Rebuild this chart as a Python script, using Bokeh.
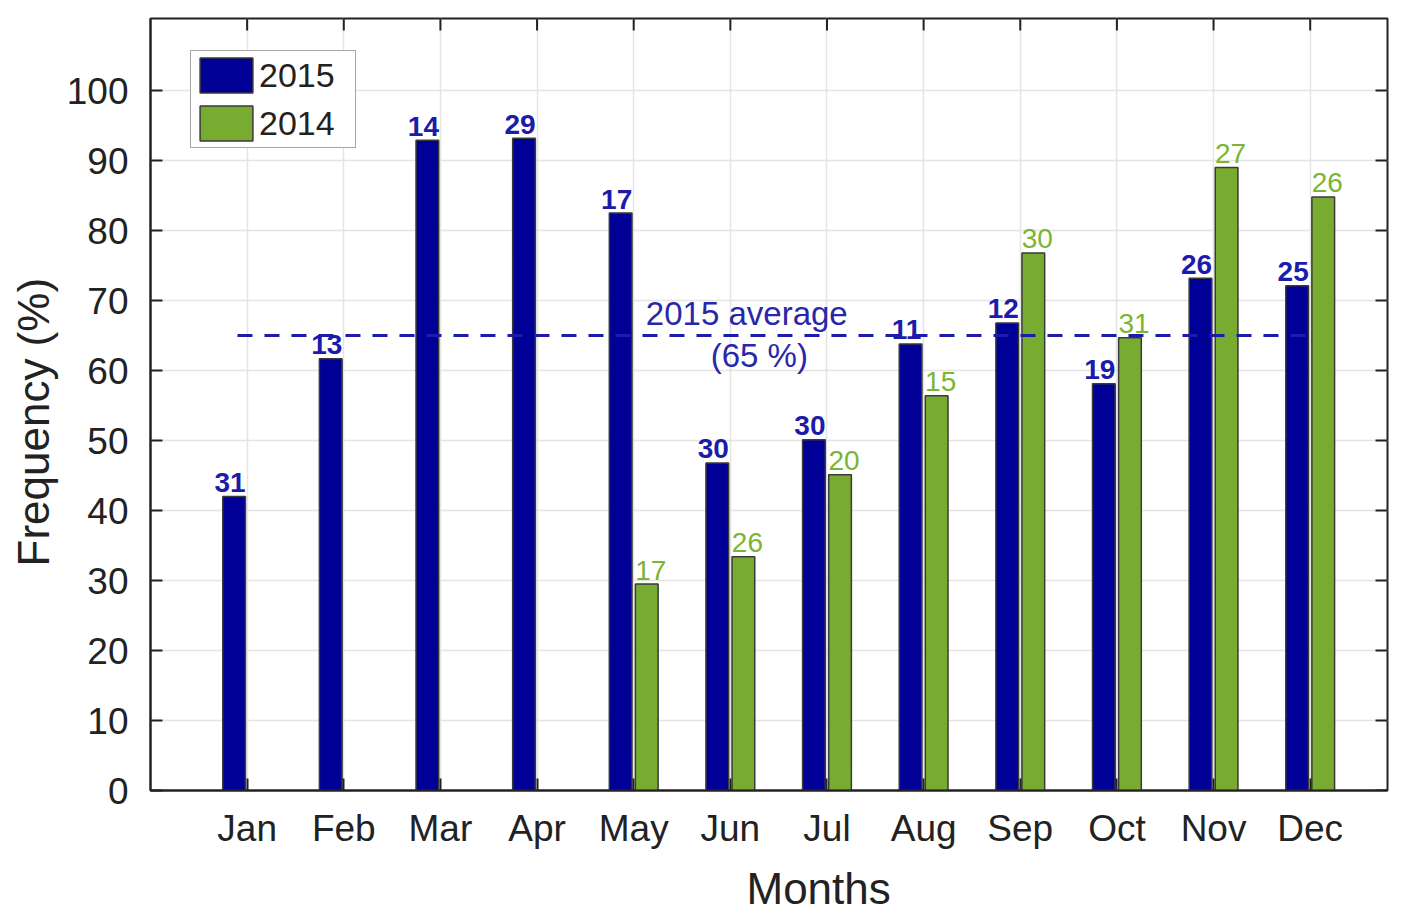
from bokeh.plotting import figure
from bokeh.models import (ColumnDataSource, Range1d, FixedTicker, Legend, LegendItem, Label,
                          Title)
from bokeh.core.properties import value
from bokeh.embed import file_html
from bokeh.resources import INLINE

# ---------------- data ----------------
months = ["Jan", "Feb", "Mar", "Apr", "May", "Jun", "Jul", "Aug", "Sep", "Oct", "Nov", "Dec"]
month_idx = [1, 2, 3, 4, 5, 6, 7, 8, 9, 10, 11, 12]
freq_2015 = [42.0, 61.7, 92.9, 93.2, 82.5, 46.8, 50.1, 63.8, 66.8, 58.1, 73.2, 72.1]
count_2015 = [31, 13, 14, 29, 17, 30, 30, 11, 12, 19, 26, 25]
month_idx_2014 = [5, 6, 7, 8, 9, 10, 11, 12]
freq_2014 = [29.5, 33.4, 45.1, 56.4, 76.8, 64.7, 89.0, 84.8]
count_2014 = [17, 26, 20, 15, 30, 31, 27, 26]
avg_2015 = 65
y_ticks = [0, 10, 20, 30, 40, 50, 60, 70, 80, 90, 100]

# ---------------- style ----------------
FONT = "Liberation Sans"
BLUE = "#000096"
BLUE_TXT = "#1c1caa"
GREEN = "#77ac30"
GREEN_TXT = "#7ab534"
DARK = "#222222"
OFF = 0.135
BW = 0.235
X0, X1 = 0.0, 12.8
Y0, Y1 = 0.0, 110.3
FW, FH = 1237, 772
TICK = 12

src15 = ColumnDataSource(dict(x=[m - OFF for m in month_idx], y=freq_2015,
                              lab=[str(c) for c in count_2015]))
src14 = ColumnDataSource(dict(x=[m + OFF for m in month_idx_2014], y=freq_2014,
                              lab=[str(c) for c in count_2014]))

p = figure(frame_width=FW, frame_height=FH, output_backend="svg", toolbar_location=None,
           x_range=Range1d(X0, X1), y_range=Range1d(Y0, Y1),
           min_border_left=149, min_border_right=2, min_border_top=18, min_border_bottom=112)
p.background_fill_color = "white"
p.outline_line_color = DARK
p.outline_line_width = 2

# grid
p.xgrid.ticker = FixedTicker(ticks=month_idx)
p.ygrid.ticker = FixedTicker(ticks=y_ticks)
for g in (p.xgrid, p.ygrid):
    g.grid_line_color = "#e4e4e4"
    g.grid_line_width = 1.5

# ticks on the top and right edges of the box (inward)
dy = TICK * (Y1 - Y0) / FH
dx = TICK * (X1 - X0) / FW
p.segment(x0=month_idx, y0=[Y1] * len(month_idx), x1=month_idx, y1=[Y1 - dy] * len(month_idx),
          line_color=DARK, line_width=2)
p.segment(x0=[X1] * len(y_ticks), y0=y_ticks, x1=[X1 - dx] * len(y_ticks), y1=y_ticks,
          line_color=DARK, line_width=2)

# bars
r15 = p.vbar(x="x", top="y", width=BW, source=src15, fill_color=BLUE,
             line_color="#3a3a3a", line_width=1.5)
r14 = p.vbar(x="x", top="y", width=BW, source=src14, fill_color=GREEN,
             line_color="#3a3a3a", line_width=1.5)

# count labels
p.text(x="x", y="y", text="lab", source=src15, text_align="center", text_baseline="middle",
       x_offset=-4, y_offset=-14, text_font=value(FONT), text_font_size="28px",
       text_font_style="bold", text_color=BLUE_TXT)
p.text(x="x", y="y", text="lab", source=src14, text_align="center", text_baseline="middle",
       x_offset=4, y_offset=-14, text_font=value(FONT), text_font_size="28px",
       text_color=GREEN_TXT)

# average line
p.line(x=[0.9, 12.0], y=[avg_2015, avg_2015], line_color="#1c1caa", line_width=3,
       line_dash="15 12")
p.add_layout(Label(x=6.17, y=68.1, text="2015 average", text_align="center",
                   text_baseline="middle", text_font=FONT, text_font_size="33px",
                   text_color="#2828a8"))
p.add_layout(Label(x=6.30, y=62.1, text="(%d %%)" % avg_2015, text_align="center",
                   text_baseline="middle", text_font=FONT, text_font_size="33px",
                   text_color="#2828a8"))

# axes
def style_axis(ax, ticks):
    ax.ticker = FixedTicker(ticks=ticks)
    ax.major_tick_in = TICK
    ax.major_tick_out = 0
    ax.minor_tick_line_color = None
    ax.major_tick_line_color = DARK
    ax.major_tick_line_width = 2
    ax.axis_line_color = DARK
    ax.axis_line_width = 2
    ax.major_label_text_font = FONT
    ax.major_label_text_color = DARK
    ax.major_label_text_font_size = "37px"

xa = p.xaxis[0]
style_axis(xa, month_idx)
xa.major_label_overrides = {m: n for m, n in zip(month_idx, months)}
xa.major_label_standoff = 17

ya = p.yaxis[0]
style_axis(ya, y_ticks)
ya.major_label_standoff = 22

# axis titles as side titles (allows the off-centre placement of the reference)
x_title = Title(text="Months", align="left", offset=596, standoff=20,
                text_font=FONT, text_font_size="44px", text_font_style="normal",
                text_color=DARK)
p.add_layout(x_title, "below")
y_title = Title(text="Frequency (%)", align="left", offset=224, standoff=12,
                text_font=FONT, text_font_size="44px", text_font_style="normal",
                text_color=DARK)
p.add_layout(y_title, "left")

# legend
legend = Legend(items=[LegendItem(label="2015", renderers=[r15]),
                       LegendItem(label="2014", renderers=[r14])],
                location=(40, 642), margin=0, padding=2, spacing=4,
                glyph_width=66, glyph_height=44, label_standoff=0, label_width=94,
                label_text_font=FONT, label_text_font_size="34px", label_text_color=DARK,
                label_height=44, border_line_color="#4d4d4d", border_line_width=1.5,
                background_fill_color="white", background_fill_alpha=1.0)
p.add_layout(legend)

open("out.html", "w").write(file_html(p, INLINE))
